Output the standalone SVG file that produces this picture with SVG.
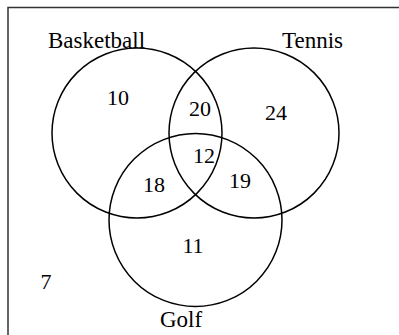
<svg xmlns="http://www.w3.org/2000/svg" width="399" height="335" viewBox="0 0 399 335">
<style>
.c{fill:none;stroke:#000;stroke-width:1.5}
.t{font-family:"Liberation Serif","Times New Roman",serif;font-size:22px;fill:#000;text-anchor:middle}
.l{font-family:"Liberation Serif","Times New Roman",serif;font-size:23px;fill:#000}
.b{fill:none;stroke:#333;stroke-width:1.5}
</style>
<rect width="399" height="335" fill="#fff"/>
<g id="frame"><path class="b" d="M8,335 V7.5 H399"/></g>
<g id="basketball"><circle class="c" cx="137" cy="133" r="85"/><text class="l" x="48" y="48">Basketball</text></g>
<g id="tennis"><circle class="c" cx="254" cy="133" r="85"/><text class="l" x="282" y="48">Tennis</text></g>
<g id="golf"><circle class="c" cx="195.5" cy="220" r="86.5"/><text class="l" x="160" y="327">Golf</text></g>
<g id="values">
<text class="t" x="118" y="105">10</text>
<text class="t" x="200" y="116">20</text>
<text class="t" x="276" y="120">24</text>
<text class="t" x="204" y="163">12</text>
<text class="t" x="154" y="192">18</text>
<text class="t" x="240" y="188">19</text>
<text class="t" x="193" y="253">11</text>
<text class="t" x="46" y="289">7</text>
</g>
</svg>
